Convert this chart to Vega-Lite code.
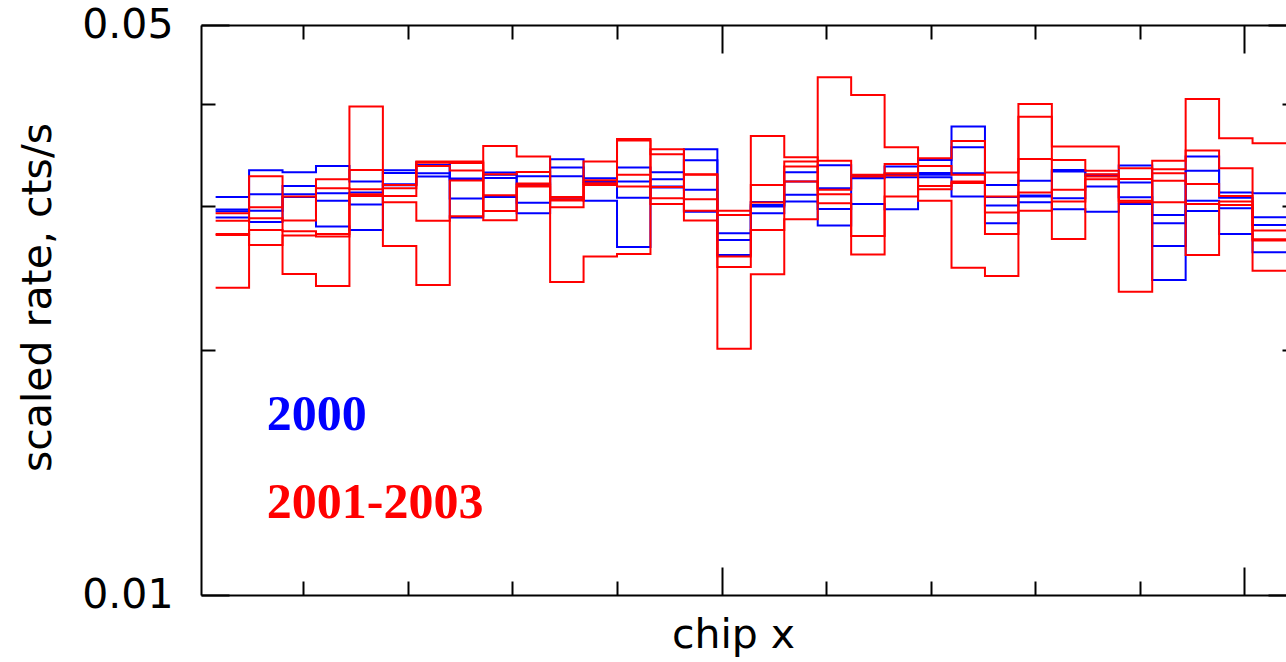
{
  "$schema": "https://vega.github.io/schema/vega-lite/v6.json",
  "width": 1085,
  "height": 570,
  "autosize": {"type": "none"},
  "padding": {"left": 201, "top": 25, "right": 0, "bottom": 67},
  "background": "white",
  "config": {
    "view": {"stroke": null},
    "axis": {
      "grid": false,
      "domainColor": "black",
      "domainWidth": 2,
      "tickColor": "black",
      "tickWidth": 2,
      "labelFont": "DejaVu Sans",
      "labelFontSize": 41,
      "labelColor": "black",
      "titleFont": "DejaVu Sans",
      "titleFontSize": 41,
      "titleFontWeight": "normal",
      "titleColor": "black"
    }
  },
  "datasets": {
    "bins": [
      {"x": 16, "b1": 0.03077, "b2": 0.02969, "b3": 0.02955, "b4": 0.02903, "r1": 0.02939, "r2": 0.02876, "r3": 0.02772, "r4": 0.02764, "r5": 0.02381},
      {"x": 48, "b1": 0.03318, "b2": 0.03101, "b3": 0.02960, "b4": 0.02867, "r1": 0.02989, "r2": 0.02898, "r3": 0.02803, "r4": 0.02687, "r5": 0.03262},
      {"x": 80, "b1": 0.03299, "b2": 0.03174, "b3": 0.03101, "b4": 0.03077, "r1": 0.03080, "r2": 0.02878, "r3": 0.02793, "r4": 0.02759, "r5": 0.02475},
      {"x": 112, "b1": 0.03359, "b2": 0.03110, "b3": 0.03043, "b4": 0.02830, "r1": 0.03235, "r2": 0.03154, "r3": 0.02772, "r4": 0.02751, "r5": 0.02393},
      {"x": 144, "b1": 0.03213, "b2": 0.03115, "b3": 0.03011, "b4": 0.02803, "r1": 0.03321, "r2": 0.03145, "r3": 0.03101, "r4": 0.03086, "r5": 0.03971},
      {"x": 176, "b1": 0.03318, "b2": 0.03293, "b3": 0.03190, "b4": 0.03181, "r1": 0.03183, "r2": 0.03154, "r3": 0.03086, "r4": 0.03032, "r5": 0.02679},
      {"x": 208, "b1": 0.03397, "b2": 0.03368, "b3": 0.03290, "b4": 0.03259, "r1": 0.03400, "r2": 0.03390, "r3": 0.03359, "r4": 0.02876, "r5": 0.02400},
      {"x": 240, "b1": 0.03242, "b2": 0.03229, "b3": 0.03064, "b4": 0.02903, "r1": 0.03400, "r2": 0.03387, "r3": 0.03316, "r4": 0.03224, "r5": 0.02914},
      {"x": 272, "b1": 0.03296, "b2": 0.03275, "b3": 0.03247, "b4": 0.03077, "r1": 0.03281, "r2": 0.03092, "r3": 0.02958, "r4": 0.02881, "r5": 0.03554},
      {"x": 304, "b1": 0.03262, "b2": 0.03192, "b3": 0.03026, "b4": 0.02939, "r1": 0.03302, "r2": 0.03195, "r3": 0.03181, "r4": 0.03170, "r5": 0.03448},
      {"x": 336, "b1": 0.03423, "b2": 0.03343, "b3": 0.03262, "b4": 0.03069, "r1": 0.03077, "r2": 0.03057, "r3": 0.03047, "r4": 0.02989, "r5": 0.02420},
      {"x": 368, "b1": 0.03244, "b2": 0.03210, "b3": 0.03192, "b4": 0.03043, "r1": 0.03400, "r2": 0.03226, "r3": 0.03199, "r4": 0.03183, "r5": 0.02600},
      {"x": 400, "b1": 0.03343, "b2": 0.03213, "b3": 0.03071, "b4": 0.02672, "r1": 0.03625, "r2": 0.03608, "r3": 0.03275, "r4": 0.03168, "r5": 0.02620},
      {"x": 432, "b1": 0.03299, "b2": 0.03235, "b3": 0.03168, "b4": 0.03161, "r1": 0.03472, "r2": 0.03165, "r3": 0.03066, "r4": 0.03017, "r5": 0.03521},
      {"x": 464, "b1": 0.03521, "b2": 0.03413, "b3": 0.03139, "b4": 0.02952, "r1": 0.03281, "r2": 0.03275, "r3": 0.03057, "r4": 0.02960, "r5": 0.02878},
      {"x": 496, "b1": 0.02925, "b2": 0.02777, "b3": 0.02725, "b4": 0.02612, "r1": 0.02960, "r2": 0.02925, "r3": 0.02600, "r4": 0.02525, "r5": 0.02004},
      {"x": 528, "b1": 0.03034, "b2": 0.03008, "b3": 0.02996, "b4": 0.02939, "r1": 0.03656, "r2": 0.03183, "r3": 0.03028, "r4": 0.02803, "r5": 0.02473},
      {"x": 560, "b1": 0.03299, "b2": 0.03213, "b3": 0.03095, "b4": 0.03037, "r1": 0.03442, "r2": 0.03400, "r3": 0.03352, "r4": 0.03213, "r5": 0.02889},
      {"x": 592, "b1": 0.03365, "b2": 0.03154, "b3": 0.02975, "b4": 0.02838, "r1": 0.03407, "r2": 0.03139, "r3": 0.03101, "r4": 0.03023, "r5": 0.04315},
      {"x": 624, "b1": 0.03265, "b2": 0.03256, "b3": 0.03244, "b4": 0.03017, "r1": 0.03275, "r2": 0.03259, "r3": 0.02756, "r4": 0.02615, "r5": 0.04104},
      {"x": 656, "b1": 0.03352, "b2": 0.03275, "b3": 0.03253, "b4": 0.02972, "r1": 0.03378, "r2": 0.03290, "r3": 0.03270, "r4": 0.03080, "r5": 0.03541},
      {"x": 688, "b1": 0.03416, "b2": 0.03293, "b3": 0.03275, "b4": 0.03253, "r1": 0.03433, "r2": 0.03359, "r3": 0.03174, "r4": 0.03145, "r5": 0.03045},
      {"x": 720, "b1": 0.03753, "b2": 0.03541, "b3": 0.03290, "b4": 0.03080, "r1": 0.03604, "r2": 0.03275, "r3": 0.03213, "r4": 0.03201, "r5": 0.02520},
      {"x": 752, "b1": 0.03183, "b2": 0.03077, "b3": 0.03003, "b4": 0.02857, "r1": 0.03296, "r2": 0.03080, "r3": 0.02944, "r4": 0.02772, "r5": 0.02462},
      {"x": 784, "b1": 0.03222, "b2": 0.03089, "b3": 0.03080, "b4": 0.03032, "r1": 0.03860, "r2": 0.03426, "r3": 0.03115, "r4": 0.02960, "r5": 0.04000},
      {"x": 816, "b1": 0.03321, "b2": 0.03305, "b3": 0.03066, "b4": 0.02972, "r1": 0.03547, "r2": 0.03416, "r3": 0.03139, "r4": 0.03037, "r5": 0.02733},
      {"x": 848, "b1": 0.03275, "b2": 0.03265, "b3": 0.03168, "b4": 0.02952, "r1": 0.03547, "r2": 0.03314, "r3": 0.03281, "r4": 0.03259, "r5": 0.03235},
      {"x": 880, "b1": 0.03362, "b2": 0.03204, "b3": 0.03075, "b4": 0.03017, "r1": 0.03337, "r2": 0.03238, "r3": 0.03045, "r4": 0.03032, "r5": 0.02355},
      {"x": 912, "b1": 0.02925, "b2": 0.02857, "b3": 0.02679, "b4": 0.02434, "r1": 0.03328, "r2": 0.03290, "r3": 0.03222, "r4": 0.03032, "r5": 0.03409},
      {"x": 944, "b1": 0.03448, "b2": 0.03314, "b3": 0.03043, "b4": 0.02958, "r1": 0.03507, "r2": 0.03192, "r3": 0.03017, "r4": 0.02612, "r5": 0.04058},
      {"x": 976, "b1": 0.03115, "b2": 0.03069, "b3": 0.02981, "b4": 0.02772, "r1": 0.03337, "r2": 0.03086, "r3": 0.03037, "r4": 0.03008, "r5": 0.03632},
      {"x": 1008, "b1": 0.03110, "b2": 0.02906, "b3": 0.02843, "b4": 0.02632, "r1": 0.02798, "r2": 0.02731, "r3": 0.02720, "r4": 0.02499, "r5": 0.03581},
      {"x": 1040, "b1": 0.03110, "b2": 0.02906, "b3": 0.02843, "b4": 0.02632, "r1": 0.02798, "r2": 0.02731, "r3": 0.02720, "r4": 0.02499, "r5": 0.03581}
    ]
  },
  "layer": [
    {
      "data": {"name": "bins"},
      "transform": [{"fold": ["b1", "b2", "b3", "b4"], "as": ["s", "r"]}],
      "mark": {"type": "line", "interpolate": "step-after", "color": "#0000ff", "strokeWidth": 2, "clip": true},
      "encoding": {
        "x": {
          "field": "x", "type": "quantitative",
          "scale": {"domain": [2, 1040], "nice": false, "zero": false},
          "axis": {
            "orient": "bottom",
            "values": [100, 200, 300, 400, 500, 600, 700, 800, 900, 1000],
            "labels": false,
            "tickSize": {"condition": {"test": "datum.value % 500 === 0", "value": -28}, "value": -14},
            "title": "chip x",
            "titleX": 532,
            "titleY": 52,
            "titleAlign": "center",
            "titleBaseline": "alphabetic"
          }
        },
        "y": {
          "field": "r", "type": "quantitative",
          "scale": {"type": "log", "domain": [0.01, 0.05], "nice": false},
          "axis": {
            "orient": "left",
            "values": [0.01, 0.02, 0.03, 0.04, 0.05],
            "tickSize": {"condition": {"test": "datum.value < 0.015 || datum.value > 0.045", "value": -28}, "value": -14},
            "labelExpr": "datum.value < 0.015 || datum.value > 0.045 ? format(datum.value, '.2f') : ''",
            "labelAlign": "right",
            "labelBaseline": "middle",
            "labelPadding": 56,
            "labelFlush": false,
            "labelOverlap": false,
            "title": "scaled rate, cts/s",
            "titleX": -151,
            "titleY": 272,
            "titleAngle": 270,
            "titleAlign": "center",
            "titleBaseline": "alphabetic"
          }
        },
        "detail": {"field": "s"}
      }
    },
    {
      "data": {"name": "bins"},
      "transform": [{"fold": ["r1", "r2", "r3", "r4", "r5"], "as": ["s", "r"]}],
      "mark": {"type": "line", "interpolate": "step-after", "color": "#ff0000", "strokeWidth": 2, "clip": true},
      "encoding": {
        "x": {
          "field": "x", "type": "quantitative",
          "scale": {"domain": [2, 1040], "nice": false, "zero": false},
          "axis": {
            "orient": "top",
            "values": [100, 200, 300, 400, 500, 600, 700, 800, 900, 1000],
            "labels": false,
            "tickSize": {"condition": {"test": "datum.value % 500 === 0", "value": -28}, "value": -14},
            "title": null
          }
        },
        "y": {
          "field": "r", "type": "quantitative",
          "scale": {"type": "log", "domain": [0.01, 0.05], "nice": false},
          "axis": {
            "orient": "right",
            "values": [0.01, 0.02, 0.03, 0.04, 0.05],
            "labels": false,
            "domain": false,
            "tickSize": {"condition": {"test": "datum.value < 0.015 || datum.value > 0.045", "value": -18}, "value": -4},
            "title": null
          }
        },
        "detail": {"field": "s"}
      }
    },
    {
      "data": {"values": [{"t": "2000", "x": 65, "r": 0.01593}]},
      "mark": {"type": "text", "align": "left", "baseline": "alphabetic", "font": "Liberation Serif", "fontWeight": "bold", "fontSize": 50, "color": "#0000ff"},
      "encoding": {
        "x": {"field": "x", "type": "quantitative", "scale": {"domain": [2, 1040], "nice": false, "zero": false}, "axis": null},
        "y": {"field": "r", "type": "quantitative", "scale": {"type": "log", "domain": [0.01, 0.05], "nice": false}, "axis": null},
        "text": {"field": "t"}
      }
    },
    {
      "data": {"values": [{"t": "2001-2003", "x": 65, "r": 0.012417}]},
      "mark": {"type": "text", "align": "left", "baseline": "alphabetic", "font": "Liberation Serif", "fontWeight": "bold", "fontSize": 50, "color": "#ff0000"},
      "encoding": {
        "x": {"field": "x", "type": "quantitative", "scale": {"domain": [2, 1040], "nice": false, "zero": false}, "axis": null},
        "y": {"field": "r", "type": "quantitative", "scale": {"type": "log", "domain": [0.01, 0.05], "nice": false}, "axis": null},
        "text": {"field": "t"}
      }
    }
  ],
  "resolve": {"axis": {"x": "independent", "y": "independent"}}
}
